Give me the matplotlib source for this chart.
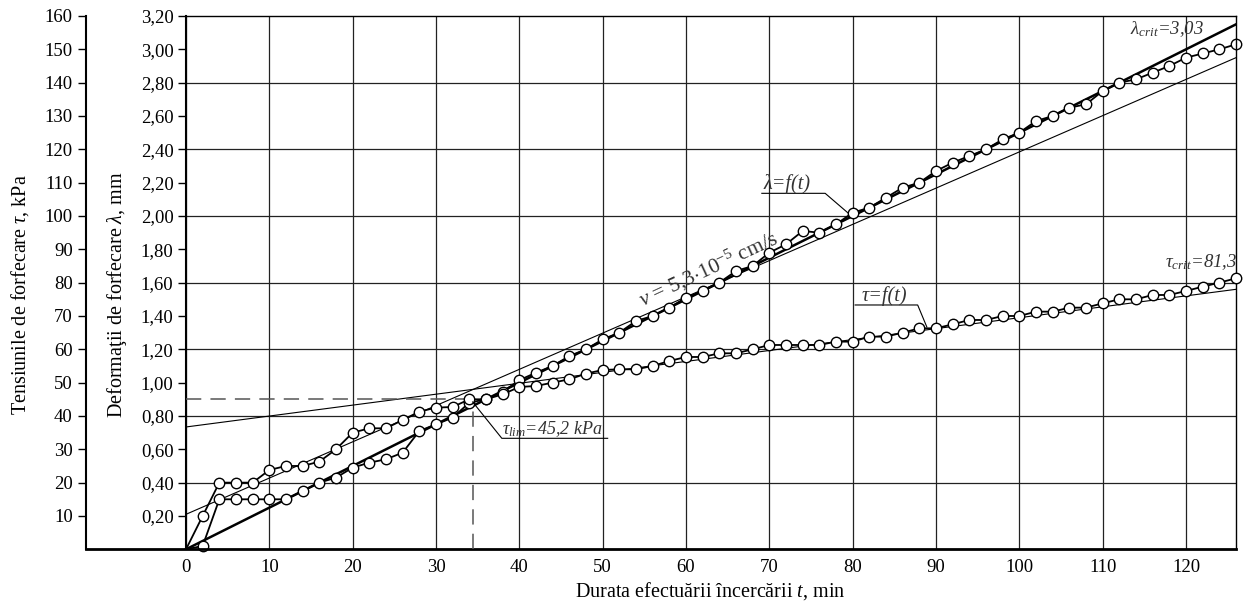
import numpy as np
import matplotlib
matplotlib.use('Agg')
import matplotlib.pyplot as plt
from matplotlib.ticker import FuncFormatter

plt.rcParams['font.family'] = 'Liberation Serif'
plt.rcParams['mathtext.fontset'] = 'custom'
plt.rcParams['mathtext.rm'] = 'Liberation Serif'
plt.rcParams['mathtext.it'] = 'Liberation Serif:italic'

# test duration, min
t_min = [0, 2, 4, 6, 8, 10, 12, 14, 16, 18, 20, 22, 24, 26, 28, 30,
         32, 34, 36, 38, 40, 42, 44, 46, 48, 50, 52, 54, 56, 58, 60, 62,
         64, 66, 68, 70, 72, 74, 76, 78, 80, 82, 84, 86, 88, 90, 92, 94,
         96, 98, 100, 102, 104, 106, 108, 110, 112, 114, 116, 118, 120,
         122, 124, 126]

# shear deformation, mm
lambda_mm = [0, 0.02, 0.30, 0.30, 0.30, 0.30, 0.30, 0.35, 0.40, 0.43,
             0.49, 0.52, 0.54, 0.58, 0.71, 0.75, 0.79, 0.88, 0.90, 0.945,
             1.015, 1.06, 1.10, 1.16, 1.20, 1.26, 1.30, 1.37, 1.40, 1.45,
             1.51, 1.55, 1.60, 1.67, 1.70, 1.78, 1.83, 1.91, 1.90, 1.95,
             2.02, 2.05, 2.11, 2.17, 2.20, 2.27, 2.32, 2.36, 2.40, 2.46,
             2.50, 2.57, 2.60, 2.65, 2.67, 2.75, 2.80, 2.82, 2.86, 2.90,
             2.95, 2.975, 3.00, 3.03]

# shear stress, kPa
tau_kpa = [0, 10, 20, 20, 20, 23.8, 25, 25, 26.3, 30, 35, 36.3, 36.3,
           38.8, 41.3, 42.5, 42.7, 45, 45, 46.5, 48.7, 49, 50, 51, 52.7,
           53.8, 54, 54, 55, 56.5, 57.7, 57.7, 58.8, 58.8, 60, 61.3, 61.3,
           61.3, 61.3, 62.3, 62.3, 63.8, 63.8, 65, 66.3, 66.3, 67.5, 68.8,
           68.8, 70, 70, 71.3, 71.3, 72.5, 72.5, 73.8, 75, 75, 76.3, 76.3,
           77.5, 78.8, 80, 81.3]

# straight construction lines (ends at t = 0 and t = 126)
fit_t = [0, 126]
lambda_crit_line = [0.0, 3.15]
lambda_tangent = [0.21, 2.95]
tau_tangent_kpa = [36.7, 78.0]

t_lim = 34.4
tau_lim = 45.2
lambda_crit = 3.03
tau_crit = 81.3


def comma(v, fmt='{:.2f}'):
    return fmt.format(v).replace('.', ',')


fig = plt.figure(figsize=(12.53, 6.05), dpi=100)
ax = fig.add_axes([86 / 1253, 1 - 549.3 / 605, 1150 / 1253, 533.3 / 605])
ax.set_xlim(-12, 126)
ax.set_ylim(0, 3.2)
axt = ax.twinx()
axt.set_ylim(0, 160)

# grid
ax.set_xticks(range(0, 121, 10))
ax.grid(axis='x', color='#222222', lw=0.9)
ax.hlines(np.round(np.arange(0.4, 2.81, 0.4), 1), 0, 126,
          color='#222222', lw=0.9, zorder=0.5)

# spines
ax.spines['left'].set_position(('data', 0))
ax.spines['left'].set_linewidth(1.5)
ax.spines['bottom'].set_linewidth(2)
ax.spines['top'].set_bounds(0, 126)
ax.spines['top'].set_linewidth(1)
ax.spines['right'].set_linewidth(1)
for s in ('right', 'top', 'bottom'):
    axt.spines[s].set_visible(False)
axt.spines['left'].set_visible(True)
axt.spines['left'].set_position(('axes', 0))
axt.spines['left'].set_linewidth(1.5)

# ticks
ax.tick_params(axis='x', length=0, pad=7, labelsize=13.5)
ax.set_yticks(np.round(np.arange(0.2, 3.21, 0.2), 2))
ax.yaxis.set_major_formatter(FuncFormatter(lambda v, _: comma(v)))
ax.tick_params(axis='y', length=5.5, width=1, pad=3.5, labelsize=13.5)
axt.yaxis.tick_left()
axt.yaxis.set_label_position('left')
axt.set_yticks(range(10, 161, 10))
axt.tick_params(axis='y', length=5.5, width=1, pad=4, labelsize=13.5)

# construction lines
ax.plot(fit_t, lambda_crit_line, color='k', lw=1.8)
ax.plot(fit_t, lambda_tangent, color='k', lw=0.8)
axt.plot(fit_t, tau_tangent_kpa, color='k', lw=0.8)

# dashed limit lines
axt.plot([0, t_lim], [tau_lim, tau_lim], color='#555555', lw=1.1, dashes=(10, 6))
axt.plot([t_lim, t_lim], [0, tau_lim], color='#555555', lw=1.1, dashes=(10, 6))

# measured series
ax.plot(t_min, lambda_mm, color='k', lw=1.3)
ax.plot(t_min[1:], lambda_mm[1:], 'o', ms=7.5, mfc='white', mec='k',
        mew=1, clip_on=False)
axt.plot(t_min, tau_kpa, color='k', lw=1.3)
axt.plot(t_min[1:], tau_kpa[1:], 'o', ms=7.5, mfc='white', mec='k',
         mew=1, clip_on=False)

# annotations
tc = '#333333'
ax.plot([69.1, 76.7, 79.4], [2.136, 2.136, 2.02], color='k', lw=0.8)
ax.text(69.3, 2.16, 'λ=f(t)', style='italic', fontsize=14.5, color=tc)

axt.plot([80.3, 87.8, 88.9], [73.3, 73.3, 66.7], color='k', lw=0.8)
axt.text(81.1, 74.5, 'τ=f(t)', style='italic', fontsize=14.5, color=tc)

axt.plot([34.4, 37.9, 50.6], [44.2, 33.3, 33.3], color='k', lw=0.8)
axt.text(37.9, 34.6, r'$\tau_{lim}$=' + comma(tau_lim, '{:.1f}') + ' kPa',
         style='italic', fontsize=13, color=tc)

ax.text(54.8, 1.456, r'$v$ = 5,3$\cdot$10$^{-5}$ cm/s', fontsize=15.5,
        color=tc, rotation=25, rotation_mode='anchor')

ax.text(113.3, 3.092, r'$\lambda_{crit}$=' + comma(lambda_crit),
        style='italic', fontsize=13.5, color=tc)
axt.text(126.2, 84.7, r'$\tau_{crit}$=' + comma(tau_crit, '{:.1f}'),
         style='italic', fontsize=13.5, color=tc, ha='right')

# axis labels
ax.set_xlabel(r'Durata efectuării încercării $t$, min', fontsize=14.5)
ax.xaxis.set_label_coords(0.5426, -0.058)
ax.set_ylabel(r'Deformaţii de forfecare $\lambda$, mm', fontsize=14.5)
ax.yaxis.set_label_coords(0.0374, 0.478)
axt.set_ylabel(r'Tensiunile de forfecare $\tau$, kPa', fontsize=14.5)
axt.yaxis.set_label_coords(-0.0478, 0.478)

fig.savefig('out.png', dpi=100)
